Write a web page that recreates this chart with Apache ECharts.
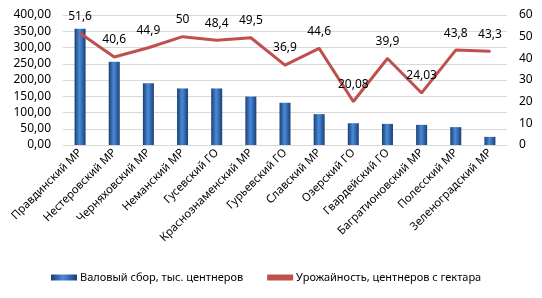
<!DOCTYPE html>
<html><head><meta charset="utf-8">
<script src="https://cdn.jsdelivr.net/npm/echarts@6/dist/echarts.min.js"></script>
<style>html,body{margin:0;padding:0;background:#fff}#c{width:542px;height:298px}</style>
</head><body><div id="c"></div>
<script>
const categories = ['Правдинский МР','Нестеровский МР','Черняховский МР','Неманский МР','Гусевский ГО','Краснознаменский МР','Гурьевский ГО','Славский МР','Озерский ГО','Гвардейский ГО','Багратионовский МР','Полесский МР','Зеленоградский МР'];
const grossHarvest = [358, 256, 190, 174, 174, 149, 130, 95, 67, 65, 62, 55, 25];
const yieldPerHa = [51.6, 40.6, 44.9, 50, 48.4, 49.5, 36.9, 44.6, 20.08, 39.9, 24.03, 43.8, 43.3];
const yieldLabels = ['51,6','40,6','44,9','50','48,4','49,5','36,9','44,6','20,08','39,9','24,03','43,8','43,3'];
const seriesNames = ['Валовый сбор, тыс. центнеров','Урожайность, центнеров с гектара'];

const font = 'Noto Sans';
const barGrad = new echarts.graphic.LinearGradient(0,0,1,0,[
  {offset:0,color:'#1a3f75'},{offset:0.45,color:'#4a8ad6'},{offset:0.6,color:'#3c78c4'},{offset:1,color:'#1a3f75'}]);
const chart = echarts.init(document.getElementById('c'));
chart.setOption({
  animation:false,
  textStyle:{fontFamily:font},
  grid:{left:63,right:35,top:15,bottom:153},
  legend:{bottom:10,left:46,itemGap:24,itemWidth:26,itemHeight:6,
    textStyle:{fontFamily:font,fontSize:11,color:'#000',padding:[0,0,0,-2]},
    data:[{name:seriesNames[0],icon:'rect'},{name:seriesNames[1],icon:'rect',itemStyle:{color:'#c0504d'}}]},
  xAxis:{type:'category',data:categories,
    axisTick:{show:false},axisLine:{lineStyle:{color:'#d9d9d9'}},
    axisLabel:{rotate:45,interval:0,fontSize:11.3,color:'#000',fontFamily:font,margin:6}},
  yAxis:[
    {type:'value',min:0,max:400,interval:50,
      axisLabel:{fontSize:12,color:'#000',fontFamily:font,margin:12,formatter:v=>v.toFixed(2).replace('.',',')},
      splitLine:{lineStyle:{color:'#d9d9d9',width:1}},axisLine:{show:false},axisTick:{show:false}},
    {type:'value',min:0,max:60,interval:10,
      axisLabel:{fontSize:12,color:'#000',fontFamily:font,margin:12},
      splitLine:{show:false},axisLine:{show:false},axisTick:{show:false}}
  ],
  series:[
    {name:seriesNames[0],type:'bar',data:grossHarvest,barWidth:11,
      itemStyle:{color:barGrad}},
    {name:seriesNames[1],type:'line',yAxisIndex:1,data:yieldPerHa,symbol:'circle',symbolSize:2,showSymbol:true,
      lineStyle:{color:'#c0504d',width:3},itemStyle:{color:'#c0504d'},
      labelLayout:{hideOverlap:false},
      label:{show:true,position:'top',distance:10,fontSize:12,color:'#000',fontFamily:font,
        formatter:p=>yieldLabels[p.dataIndex]}}
  ]
});
</script></body></html>
